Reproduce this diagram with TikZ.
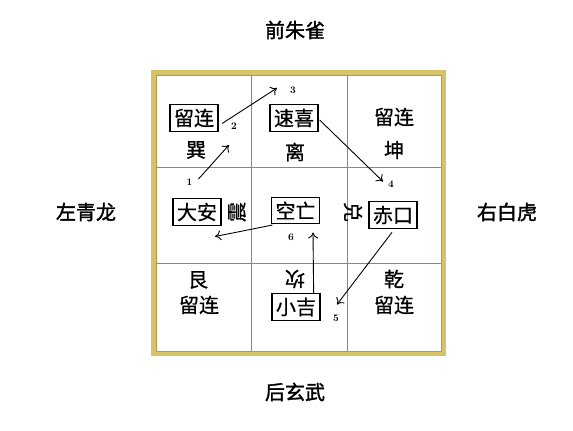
\documentclass[tikz,border=0pt]{standalone}
\usepackage{fontspec}
\newfontfamily\cjk{Noto Sans CJK SC}[FakeBold=0.6]
\newfontfamily\cjkside{Noto Sans CJK SC}[FakeBold=1.6]
\usetikzlibrary{calc,arrows.meta}
\definecolor{framegold}{RGB}{214,194,104}
\definecolor{framedark}{RGB}{178,158,74}
\definecolor{gridline}{RGB}{140,138,110}
\tikzset{
  cell/.style={font=\cjk\fontsize{20}{20}\selectfont, inner sep=0pt},
  boxed/.style={cell, draw, line width=1.3pt, inner xsep=4pt, inner ysep=4pt},
  side/.style={font=\cjkside\fontsize{20}{20}\selectfont},
  numlabel/.style={font=\bfseries\fontsize{10}{10}\selectfont, inner sep=1pt},
  move/.style={-{Computer Modern Rightarrow[length=6pt,width=10pt]}, line width=0.9pt},
}

\begin{document}
\begin{tikzpicture}[x=1pt,y=-1pt]
\fill[white] (0,0) rectangle (573,431);
\useasboundingbox (0,0) rectangle (573,431);
% frame and grid
\draw[framegold, line width=4.5pt] (153.5,72.5) rectangle (443.5,353.5);
\draw[framedark, line width=0.6pt] (155.8,74.8) rectangle (441.2,351.2);
\foreach \x in {251,347.5}
  \draw[gridline, line width=0.8pt] (\x,75) -- (\x,351);
\foreach \y in {167,263}
  \draw[gridline, line width=0.8pt] (156,\y) -- (441,\y);
% four sides
\node[side] (front) at (295,30) {前朱雀};
\node[side] (left) at (86,212) {左青龙};
\node[side] (right) at (507,212) {右白虎};
\node[side] (back) at (295,392) {后玄武};
% top row
\node[boxed] (liulian) at (194,118) {留连};
\node[cell] (xun) at (196,150) {巽};
\node[boxed] (suxi) at (294,118) {速喜};
\node[cell] (li) at (295,152) {离};
\node[cell] (liuliantr) at (394,117) {留连};
\node[cell] (kun) at (394,150) {坤};
% middle row
\node[boxed] (daan) at (197,212) {大安};
\node[cell, rotate=90] (zhen) at (237,212) {震};
\node[boxed] (kongwang) at (295.5,210.5) {空亡};
\node[cell, rotate=-90] (dui) at (353,212) {兑};
\node[boxed] (chikou) at (393,215) {赤口};
% bottom row
\node[cell] (gen) at (198,280) {艮};
\node[cell] (liulianbl) at (199,305) {留连};
\node[cell, rotate=180] (kan) at (295,279) {坎};
\node[boxed] (xiaoji) at (296,307) {小吉};
\node[cell] (qian) at (394,279) {乾};
\node[cell] (liulianbr) at (394,305) {留连};
% step numbers
\node[numlabel] (n1) at (189.5,182) {1};
\node[numlabel] (n2) at (234,126) {2};
\node[numlabel] (n3) at (293,90) {3};
\node[numlabel] (n4) at (391,184) {4};
\node[numlabel] (n5) at (336,318) {5};
\node[numlabel] (n6) at (291,237) {6};
% arrow tips
\coordinate (t2) at (229,145);
\coordinate (t3) at (277,88);
\coordinate (t4) at (383,181.5);
\coordinate (t5) at (337,304.5);
\coordinate (t6) at (313,232.5);
\coordinate (t1) at (215,236.5);
% moves
\draw[move] (n1) ++(9,-3) -- (t2);
\draw[move] (liulian.east) ++(3.5,5.5) -- (t3);
\draw[move] (suxi.east) ++(1,2) -- (t4);
\draw[move] (chikou.south) ++(-1,3.5) -- (t5);
\draw[move] (xiaoji.north east) ++(-7,0) -- (t6);
\draw[move] (kongwang.south west) ++(1.5,1) -- (t1);
\end{tikzpicture}
\end{document}
